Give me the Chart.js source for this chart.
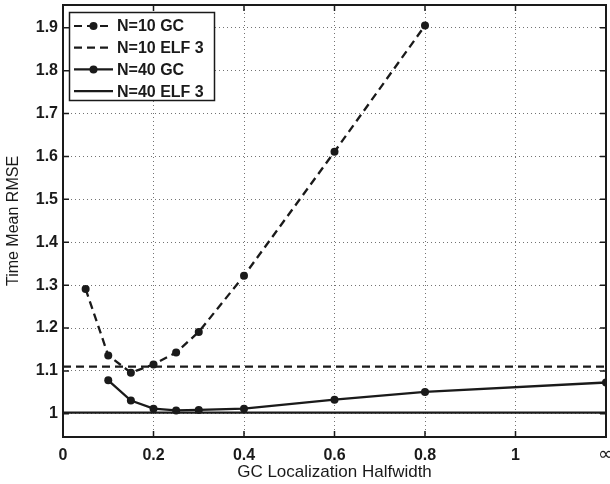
<!DOCTYPE html>
<html lang="en">
<head>
  <meta charset="UTF-8" />
  <title>Time Mean RMSE vs GC Localization Halfwidth</title>
  <script src="https://cdn.jsdelivr.net/npm/chart.js"></script>
  <style>
    html, body {
      margin: 0;
      padding: 0;
      background: #ffffff;
    }

    .chart-wrapper {
      width: 610px;
      height: 484px;
    }
  </style>
</head>
<body>
  <div class="chart-wrapper"><canvas id="rmseChart"></canvas></div>

  <script>
    // halfwidth values, 1.2 stands for "infinity" on the axis
    const gcX10 = [0.05, 0.1, 0.15, 0.2, 0.25, 0.3, 0.4, 0.6, 0.8];
    const gcY10 = [1.291, 1.136, 1.096, 1.115, 1.143, 1.191, 1.322, 1.611, 1.905];

    const gcX40 = [0.1, 0.15, 0.2, 0.25, 0.3, 0.4, 0.6, 0.8, 1.2];
    const gcY40 = [1.078, 1.031, 1.012, 1.008, 1.009, 1.012, 1.033, 1.051, 1.073];

    const elfX = [0, 1.2];
    const elfY10 = [1.110, 1.110];
    const elfY40 = [1.003, 1.003];

    const xTicks = [0, 0.2, 0.4, 0.6, 0.8, 1, 1.2];
    const xTickLabels = ['0', '0.2', '0.4', '0.6', '0.8', '1', '\u221E'];
    const yTicks = [1, 1.1, 1.2, 1.3, 1.4, 1.5, 1.6, 1.7, 1.8, 1.9];

    const toPoints = (xs, ys) => xs.map((x, i) => ({ x, y: ys[i] }));

    const FONT = "'Liberation Sans', Arial, Helvetica, sans-serif";
    const INK = '#1a1a1a';
    const DASH = [8, 5];

    // frame, inward ticks and the legend box
    const framePlugin = {
      id: 'frame',
      afterDraw(chart) {
        const { ctx, chartArea: a, scales } = chart;
        ctx.save();
        ctx.strokeStyle = INK;
        ctx.lineWidth = 1.5;
        ctx.setLineDash([]);
        ctx.beginPath();
        xTicks.forEach(v => {
          const px = scales.x.getPixelForValue(v);
          ctx.moveTo(px, a.bottom); ctx.lineTo(px, a.bottom - 6);
          ctx.moveTo(px, a.top); ctx.lineTo(px, a.top + 6);
        });
        yTicks.forEach(v => {
          const py = scales.y.getPixelForValue(v);
          ctx.moveTo(a.left, py); ctx.lineTo(a.left + 6, py);
          ctx.moveTo(a.right, py); ctx.lineTo(a.right - 6, py);
        });
        ctx.stroke();
        ctx.lineWidth = 2;
        ctx.strokeRect(a.left, a.top, a.right - a.left, a.bottom - a.top);

        // legend
        const bx = 69.5, by = 12.5, bw = 145, bh = 88;
        ctx.fillStyle = '#ffffff';
        ctx.fillRect(bx, by, bw, bh);
        ctx.lineWidth = 1.5;
        ctx.strokeStyle = INK;
        ctx.strokeRect(bx, by, bw, bh);
        ctx.font = 'bold 16px ' + FONT;
        ctx.textBaseline = 'middle';
        chart.data.datasets.forEach((ds, i) => {
          const y = 26 + i * 21.7;
          ctx.strokeStyle = INK;
          ctx.lineWidth = 2.2;
          ctx.setLineDash(ds.borderDash || []);
          ctx.beginPath();
          ctx.moveTo(74, y); ctx.lineTo(113, y);
          ctx.stroke();
          ctx.setLineDash([]);
          if (ds.pointRadius > 0) {
            ctx.fillStyle = INK;
            ctx.beginPath();
            ctx.arc(93.5, y, 4, 0, Math.PI * 2);
            ctx.fill();
          }
          ctx.fillStyle = INK;
          ctx.fillText(ds.label, 117, y + 1);
        });
        ctx.restore();
      }
    };

    const makeSet = (label, points, dash, radius) => ({
      label,
      data: points,
      borderColor: INK,
      backgroundColor: INK,
      borderWidth: 2.3,
      borderDash: dash,
      pointRadius: radius,
      pointHoverRadius: radius,
      pointBorderWidth: 0,
      tension: 0
    });

    new Chart(document.getElementById('rmseChart').getContext('2d'), {
      type: 'line',
      data: {
        datasets: [
          makeSet('N=10 GC', toPoints(gcX10, gcY10), DASH, 4),
          makeSet('N=10 ELF 3', toPoints(elfX, elfY10), DASH, 0),
          makeSet('N=40 GC', toPoints(gcX40, gcY40), [], 4),
          makeSet('N=40 ELF 3', toPoints(elfX, elfY40), [], 0)
        ]
      },
      options: {
        responsive: true,
        maintainAspectRatio: false,
        animation: false,
        layout: { padding: { top: 5, right: 2, left: 0, bottom: 0 } },
        plugins: {
          legend: { display: false },
          tooltip: { enabled: false }
        },
        scales: {
          x: {
            type: 'linear',
            min: 0,
            max: 1.2,
            afterBuildTicks: s => { s.ticks = xTicks.map(v => ({ value: v })); },
            afterFit: s => { s.height = 47; s.paddingLeft = 0; s.paddingRight = 0; },
            grid: {
              color: 'rgba(0,0,0,0.55)',
              lineWidth: 1,
              drawTicks: false
            },
            border: { display: false, dash: [1, 3] },
            ticks: {
              padding: 9,
              maxRotation: 0,
              color: INK,
              font: c => (c.tick && c.tick.value === 1.2)
                ? { family: 'DejaVu Sans', size: 19, weight: 'normal', lineHeight: 1 }
                : { family: FONT, size: 16, weight: 'bold' },
              callback: v => xTickLabels[xTicks.indexOf(v)] ?? ''
            },
            title: {
              display: true,
              text: 'GC Localization Halfwidth',
              color: INK,
              font: { family: FONT, size: 17 },
              padding: { top: 0, bottom: 1 }
            }
          },
          y: {
            type: 'linear',
            min: 0.946,
            max: 1.953,
            afterBuildTicks: s => { s.ticks = yTicks.map(v => ({ value: v })); },
            afterFit: s => { s.width = 63; s.paddingTop = 0; s.paddingBottom = 0; },
            grid: {
              color: 'rgba(0,0,0,0.55)',
              lineWidth: 1,
              drawTicks: false
            },
            border: { display: false, dash: [1, 3] },
            ticks: {
              padding: 5,
              color: INK,
              font: { family: FONT, size: 16, weight: 'bold' },
              callback: v => (Math.round(v * 10) / 10).toString()
            },
            title: {
              display: true,
              text: 'Time Mean RMSE',
              color: INK,
              font: { family: FONT, size: 16 },
              padding: { top: 4, bottom: 0 }
            }
          }
        }
      },
      plugins: [framePlugin]
    });
  </script>
</body>
</html>
